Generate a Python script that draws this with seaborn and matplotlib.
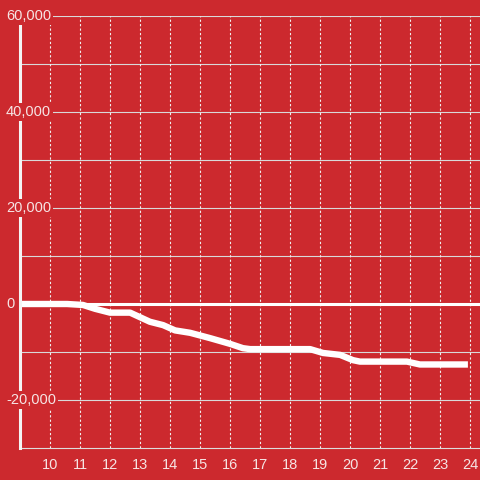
import matplotlib
matplotlib.use("Agg")
import matplotlib.pyplot as plt
import matplotlib.transforms as mtransforms
import seaborn as sns
import pandas as pd

hours = [9.0, 10.57, 11.1, 11.5, 12.0, 12.67, 13.33, 13.77, 14.17, 14.67,
         15.33, 16.0, 16.43, 16.67, 18.67, 19.1, 19.67, 20.1, 20.33, 21.9,
         22.33, 23.93]
values = [0, 0, -200, -1000, -1800, -1800, -3700, -4400, -5500, -6000,
          -7100, -8300, -9200, -9400, -9400, -10200, -10600, -11700, -12000,
          -12000, -12600, -12600]
x_ticks = list(range(10, 25))
y_labels = [60000, 40000, 20000, 0, -20000]
y_grid = list(range(-20000, 60001, 10000))

RED = "#cc292e"
TXT = "#f6e4e4"

sns.set_theme(style="white")
plt.rcParams["font.family"] = ["Liberation Sans", "DejaVu Sans"]

fig = plt.figure(figsize=(4.8, 4.8), dpi=100, facecolor=RED)
ax = fig.add_axes([20/480, 32/480, 460/480, 432/480])
ax.set_facecolor(RED)

df = pd.DataFrame({"hour": hours, "value": values})

ax.set_xlim(9, 24.333)
ax.set_ylim(-30000, 60000)

for g in y_grid:
    ax.axhline(g, color="#d9d9d9", lw=0.8, zorder=1)
for xt in x_ticks:
    ax.axvline(xt, color="#f0f0f0", lw=0.8, ls=(0, (2, 2)), zorder=1)

ax.axhline(0, color="white", lw=2.2, zorder=3)

sns.lineplot(data=df, x="hour", y="value", ax=ax, color="white", lw=4.6,
             zorder=4, solid_capstyle="butt", solid_joinstyle="round")

for s in ["top", "right"]:
    ax.spines[s].set_visible(False)
ax.spines["left"].set_color("#f4f4f4")
ax.spines["left"].set_linewidth(2.2)
ax.spines["left"].set_zorder(5)
ax.spines["bottom"].set_color("#dddddd")
ax.spines["bottom"].set_linewidth(0.8)

ax.set_xticks(x_ticks)
ax.set_xticklabels([str(t) for t in x_ticks], color=TXT, fontsize=10.5)
ax.tick_params(axis="x", length=0, pad=7)
ax.set_yticks([])
ax.set_xlabel("")
ax.set_ylabel("")

trans = mtransforms.blended_transform_factory(ax.transAxes, ax.transData)
for v in y_labels:
    ax.text(-14/460, v, f"{v:,}", transform=trans, ha="left", va="center",
            color=TXT, fontsize=10.5, zorder=10, clip_on=False,
            bbox=dict(facecolor=RED, edgecolor="none", pad=1.5))

fig.savefig("out.png", dpi=100, facecolor=RED)
